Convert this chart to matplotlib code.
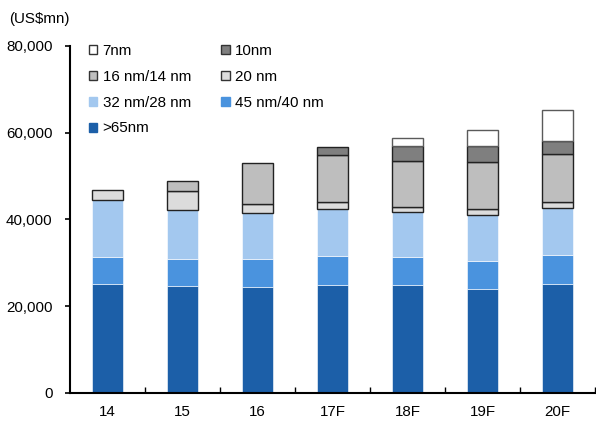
import numpy as np
import matplotlib
matplotlib.use("Agg")
import matplotlib.pyplot as plt
from matplotlib.patches import Patch

plt.rcParams['font.family'] = ['Liberation Sans', 'DejaVu Sans']

years = ["14", "15", "16", "17F", "18F", "19F", "20F"]

# Foundry revenue by process node (US$mn), stacked bottom to top
nm65_plus = [25060, 24670, 24510, 25000, 24820, 24050, 25130]
nm45_40 = [6230, 6150, 6310, 6500, 6460, 6380, 6690]
nm32_28 = [13130, 11300, 10680, 10850, 10370, 10680, 10910]
nm20 = [2380, 4450, 2150, 1600, 1310, 1310, 1310]
nm16_14 = [0, 2310, 9450, 10900, 10600, 10910, 11140]
nm10 = [0, 0, 0, 1900, 3460, 3620, 2840]
nm7 = [0, 0, 0, 0, 1770, 3690, 7300]

series = [
    (">65nm", nm65_plus, "#1c5fa8", "white", 0.4),
    ("45 nm/40 nm", nm45_40, "#4a93de", "white", 0.4),
    ("32 nm/28 nm", nm32_28, "#a3c8ef", "white", 0.4),
    ("20 nm", nm20, "#dcdcdc", "#222222", 1.0),
    ("16 nm/14 nm", nm16_14, "#bebebe", "#222222", 1.0),
    ("10nm", nm10, "#7f7f7f", "#222222", 1.0),
    ("7nm", nm7, "white", "#5a5a5a", 1.0),
]

fig = plt.figure(figsize=(5.96, 4.25), dpi=100)
ax = fig.add_axes([70 / 596, 32 / 425, 525 / 596, 347 / 425])

x = np.arange(len(years))
bottom = np.zeros(len(years))
handles = {}
for name, vals, color, edge, lw in series:
    vals = np.asarray(vals, dtype=float)
    keep = vals > 0
    ax.bar(x[keep], vals[keep], width=0.41, bottom=bottom[keep], color=color,
           edgecolor=edge, linewidth=lw, zorder=2)
    bottom += vals
    handles[name] = Patch(facecolor=color,
                          edgecolor=(color if edge == "white" else "#333333"),
                          linewidth=1.0)

ax.set_xlim(-0.5, len(years) - 0.5)
ax.set_ylim(0, 80000)
ax.set_yticks(np.arange(0, 80001, 20000))
ax.set_yticklabels([f"{v:,}" for v in range(0, 80001, 20000)])

# Category boundaries get the tick marks; labels sit at the centres
ax.set_xticks(np.arange(0.5, len(years) - 0.5 + 0.01, 1.0))
ax.set_xticklabels([])
ax.set_xticks(x, minor=True)
ax.set_xticklabels(years, minor=True)
ax.tick_params(axis="x", which="major", direction="in", length=4, width=1)
ax.tick_params(axis="x", which="minor", length=0, pad=9, labelsize=10.9)
ax.tick_params(axis="y", direction="out", length=3.5, width=1.2, pad=9,
               labelsize=10.9)

for s in ("top", "right"):
    ax.spines[s].set_visible(False)
ax.spines["left"].set_linewidth(1.5)
ax.spines["bottom"].set_linewidth(1.5)

fig.text(9 / 596, 1 - 19 / 425, "(US$mn)", fontsize=10.9, va="center",
         ha="left")

order = ["7nm", "16 nm/14 nm", "32 nm/28 nm", ">65nm",
         "10nm", "20 nm", "45 nm/40 nm"]
ax.legend([handles[n] for n in order], order, ncol=2, frameon=False,
          loc="upper left", bbox_to_anchor=(89 / 596, 1 - 44 / 425),
          bbox_transform=fig.transFigure, borderpad=0, borderaxespad=0,
          handlelength=0.55, handleheight=0.55, handletextpad=0.35,
          columnspacing=2.0, labelspacing=0.78, fontsize=10.9)

fig.savefig("out.png", dpi=100)
